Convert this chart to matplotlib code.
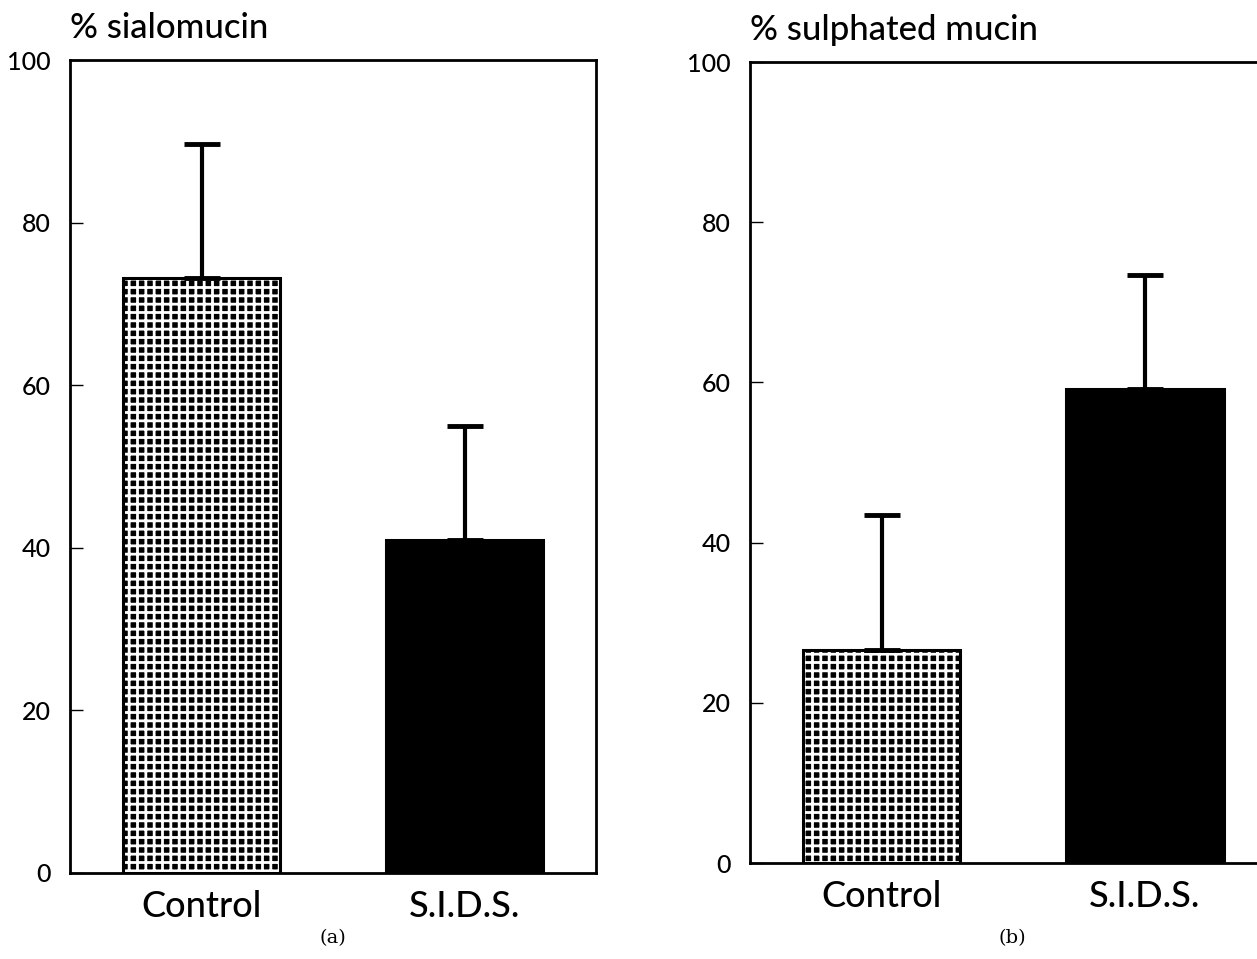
import matplotlib
matplotlib.use("Agg")
import matplotlib.pyplot as plt

groups = ["Control", "S.I.D.S."]
sialo_mean = [73.2, 40.9]
sialo_err = [16.5, 14.1]
sulph_mean = [26.6, 59.2]
sulph_err = [16.8, 14.2]
titles = ["% sialomucin", "% sulphated mucin"]
panel_tags = ["(a)", "(b)"]

plt.rcParams['font.family'] = ['Lato', 'DejaVu Sans']
plt.rcParams['hatch.linewidth'] = 2.0

fig = plt.figure(figsize=(12.57, 9.59), dpi=100)
ax1 = fig.add_axes([0.0557, 0.0897, 0.4185, 0.8477])
ax2 = fig.add_axes([0.5967, 0.1001, 0.4185, 0.8352])

panels = [(ax1, sialo_mean, sialo_err, titles[0], panel_tags[0], 333),
          (ax2, sulph_mean, sulph_err, titles[1], panel_tags[1], 1012)]
for ax, means, errs, title, tag, tag_x in panels:
    x = list(range(len(groups)))
    # dotted fill: black face with a white grid over it -> grid of black dots
    ax.bar(x[0], means[0], width=0.6, color='black', edgecolor='white', linewidth=0, hatch='++')
    ax.bar(x, means, width=0.6, color=['none', 'black'], edgecolor='black', linewidth=2.2)
    ax.errorbar(x, means, yerr=[[0, 0], errs], fmt='none', ecolor='black',
                elinewidth=3, capsize=13, capthick=3.5)
    ax.set_xlim(-0.5, 1.5)
    ax.set_ylim(0, 100)
    ax.set_yticks(range(0, 101, 20))
    ax.set_xticks(x)
    ax.set_xticklabels(groups, fontsize=26, fontweight='medium')
    ax.tick_params(axis='y', direction='in', length=9, width=1, labelsize=18, pad=14, right=False)
    ax.tick_params(axis='x', length=0, pad=12)
    for lab in ax.get_yticklabels():
        lab.set_fontweight('medium')
    for s in ax.spines.values():
        s.set_linewidth(2)
    ax.text(0.0, 1.02, title, transform=ax.transAxes, fontsize=25, ha='left', va='bottom',
            fontweight='medium')
    fig.text(tag_x / 1257, 1 - 938 / 959, tag, fontsize=14, ha='center', va='center',
             family='DejaVu Serif')

fig.savefig("out.png", dpi=100)
